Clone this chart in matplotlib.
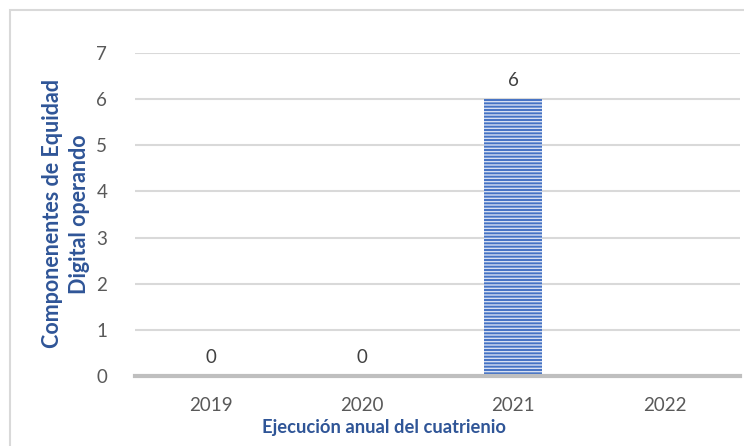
import matplotlib.pyplot as plt
from matplotlib.patches import Rectangle

# Data
years = ['2019', '2020', '2021', '2022']
values = [0, 0, 6, None]
y_ticks = [0, 1, 2, 3, 4, 5, 6, 7]

W, H = 744, 446
fig = plt.figure(figsize=(W / 100, H / 100), dpi=100, facecolor='white')
plt.rcParams['font.family'] = ['Lato', 'DejaVu Sans']
plt.rcParams['hatch.linewidth'] = 1.0

# outer chart border (only top/left visible in the reference)
fig.patches.append(Rectangle((10 / W, -0.05), 1.1, 1 - 10 / H + 0.05,
                             transform=fig.transFigure, fill=False,
                             edgecolor='#d9d9d9', linewidth=1.5))

ax = fig.add_axes([135 / W, 1 - 376 / H, 605 / W, 323 / H])
x = list(range(len(years)))
heights = [v if v is not None else 0 for v in values]
ax.bar(x, heights, width=0.38, color='#4472C4', edgecolor='#d6dff2',
       hatch='-----', linewidth=0, zorder=3)

for xi, v in zip(x, values):
    if v is not None:
        ax.text(xi, v + 0.22, str(v), ha='center', va='bottom',
                fontsize=13.5, color='#404040')

ax.set_xlim(-0.5, 3.5)
ax.set_ylim(0, 7)
ax.set_yticks(y_ticks)
ax.set_xticks(x)
ax.set_xticklabels(years)
ax.yaxis.grid(True, color='#d9d9d9', linewidth=1.5, zorder=0)
ax.set_axisbelow(True)
for s in ['top', 'right', 'left']:
    ax.spines[s].set_visible(False)
ax.spines['bottom'].set_color('#bfbfbf')
ax.spines['bottom'].set_linewidth(3)
ax.spines['bottom'].set_zorder(4)
ax.tick_params(axis='both', length=0, labelsize=13.5, labelcolor='#595959')
ax.tick_params(axis='y', pad=20)
ax.tick_params(axis='x', pad=15)

fig.text(66 / W, 1 - 214 / H, 'Componenentes de Equidad\nDigital operando',
         rotation=90, ha='center', va='center', fontsize=15.5,
         fontweight='bold', color='#2F5597', linespacing=1.3)
fig.text(384 / W, 1 - 428 / H, 'Ejecución anual del cuatrienio',
         ha='center', va='center', fontsize=13.2, fontweight='bold',
         color='#2F5597')

fig.savefig('out.png', dpi=100, facecolor='white')
